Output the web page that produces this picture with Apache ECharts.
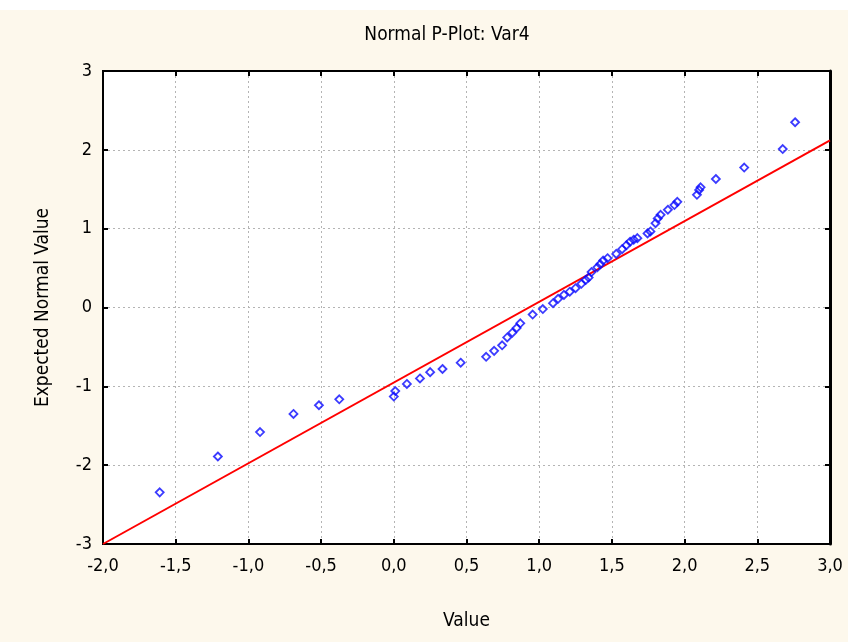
<!DOCTYPE html>
<html>
<head>
<meta charset="utf-8">
<script src="https://cdn.jsdelivr.net/npm/echarts@6/dist/echarts.min.js"></script>
<style>
html,body{margin:0;padding:0;background:#fff;}
#chart{width:848px;height:642px;}
</style>
</head>
<body>
<div id="chart"></div>
<script>
// Observed values (x) and expected normal values (y)
const valueX = [-1.61, -1.21, -0.92, -0.69, -0.515, -0.375, 0.0, 0.01, 0.09, 0.18, 0.25, 0.335, 0.46,
  0.635, 0.69, 0.745, 0.78, 0.815, 0.845, 0.87, 0.955, 1.025, 1.095, 1.13, 1.17, 1.21, 1.25, 1.29,
  1.32, 1.34, 1.36, 1.40, 1.42, 1.44, 1.47, 1.53, 1.57, 1.60, 1.625, 1.65, 1.675, 1.745, 1.765,
  1.80, 1.815, 1.835, 1.885, 1.93, 1.95, 2.085, 2.10, 2.11, 2.215, 2.41, 2.675, 2.76];
const expectedY = [-2.345, -1.89, -1.58, -1.35, -1.24, -1.165, -1.13, -1.06, -0.97, -0.90, -0.82, -0.78, -0.70,
  -0.625, -0.55, -0.48, -0.38, -0.32, -0.26, -0.20, -0.09, -0.02, 0.055, 0.11, 0.16, 0.20, 0.245, 0.30,
  0.35, 0.38, 0.45, 0.51, 0.55, 0.595, 0.625, 0.68, 0.74, 0.79, 0.835, 0.86, 0.88, 0.94, 0.965,
  1.07, 1.13, 1.175, 1.24, 1.30, 1.34, 1.43, 1.49, 1.525, 1.63, 1.775, 2.01, 2.35];
// Reference (fitted normal) line endpoints
const fitLineX = [-2.0, 3.0];
const fitLineY = [-3.0, 2.12];
// Axis ranges / ticks
const xTicks = [-2.0, -1.5, -1.0, -0.5, 0.0, 0.5, 1.0, 1.5, 2.0, 2.5, 3.0];
const yTicks = [-3, -2, -1, 0, 1, 2, 3];

const FONT = '"Liberation Sans Narrow", "DejaVu Sans Condensed", "Liberation Sans", sans-serif';
const chart = echarts.init(document.getElementById('chart'), null, {renderer: 'canvas'});

const scatterData = valueX.map((v, i) => [v, expectedY[i]]);
const lineData = fitLineX.map((v, i) => [v, fitLineY[i]]);
const fmtX = v => v.toFixed(1).replace('.', ',');

const gridLine = {show: true, lineStyle: {color: '#b4b4b4', type: [2, 3], width: 1}};
const tick = {show: true, inside: true, length: 5, lineStyle: {color: '#000', width: 2}};

chart.setOption({
  backgroundColor: '#FDF8EC',
  animation: false,
  title: {
    text: 'Normal P-Plot: Var4',
    left: 442, top: 21, textAlign: 'center',
    textStyle: {fontFamily: FONT, fontSize: 19, fontWeight: 'normal', color: '#000'}
  },
  graphic: [{type: 'rect', left: 0, top: 0, shape: {width: 848, height: 10}, style: {fill: '#fff'}, silent: true}],
  grid: {left: 103, right: 18, top: 71, bottom: 98, show: true, backgroundColor: '#fff', borderColor: '#000', borderWidth: 2},
  xAxis: [{
    type: 'value', min: xTicks[0], max: xTicks[xTicks.length - 1], interval: 0.5,
    name: 'Value', nameLocation: 'middle', nameGap: 68,
    nameTextStyle: {fontFamily: FONT, fontSize: 19, color: '#000'},
    axisLine: {show: true, onZero: false, lineStyle: {color: '#000', width: 2}},
    axisTick: tick,
    axisLabel: {formatter: fmtX, fontFamily: FONT, fontSize: 18, color: '#000', margin: 13},
    splitLine: gridLine
  }, {
    type: 'value', position: 'top', min: xTicks[0], max: xTicks[xTicks.length - 1], interval: 0.5,
    axisLine: {show: true, onZero: false, lineStyle: {color: '#000', width: 2}},
    axisLabel: {show: false}, splitLine: {show: false},
    axisTick: tick
  }],
  yAxis: [{
    type: 'value', min: yTicks[0], max: yTicks[yTicks.length - 1], interval: 1,
    name: 'Expected Normal Value', nameLocation: 'middle', nameGap: 50,
    nameTextStyle: {fontFamily: FONT, fontSize: 19, color: '#000'},
    axisLine: {show: true, onZero: false, lineStyle: {color: '#000', width: 2}},
    axisTick: tick,
    axisLabel: {fontFamily: FONT, fontSize: 18, color: '#000', margin: 11},
    splitLine: gridLine
  }, {
    type: 'value', position: 'right', min: yTicks[0], max: yTicks[yTicks.length - 1], interval: 1,
    axisLine: {show: true, onZero: false, lineStyle: {color: '#000', width: 3}},
    axisLabel: {show: false}, splitLine: {show: false},
    axisTick: tick
  }],
  series: [{
    type: 'line', data: lineData, symbol: 'none', silent: true,
    lineStyle: {color: '#ff0000', width: 2}, z: 2
  }, {
    type: 'scatter', data: scatterData, symbol: 'diamond', symbolSize: 8,
    itemStyle: {color: 'rgba(255,255,255,0)', borderColor: '#0a0aff', borderWidth: 1.8}, z: 3
  }]
});
</script>
</body>
</html>
